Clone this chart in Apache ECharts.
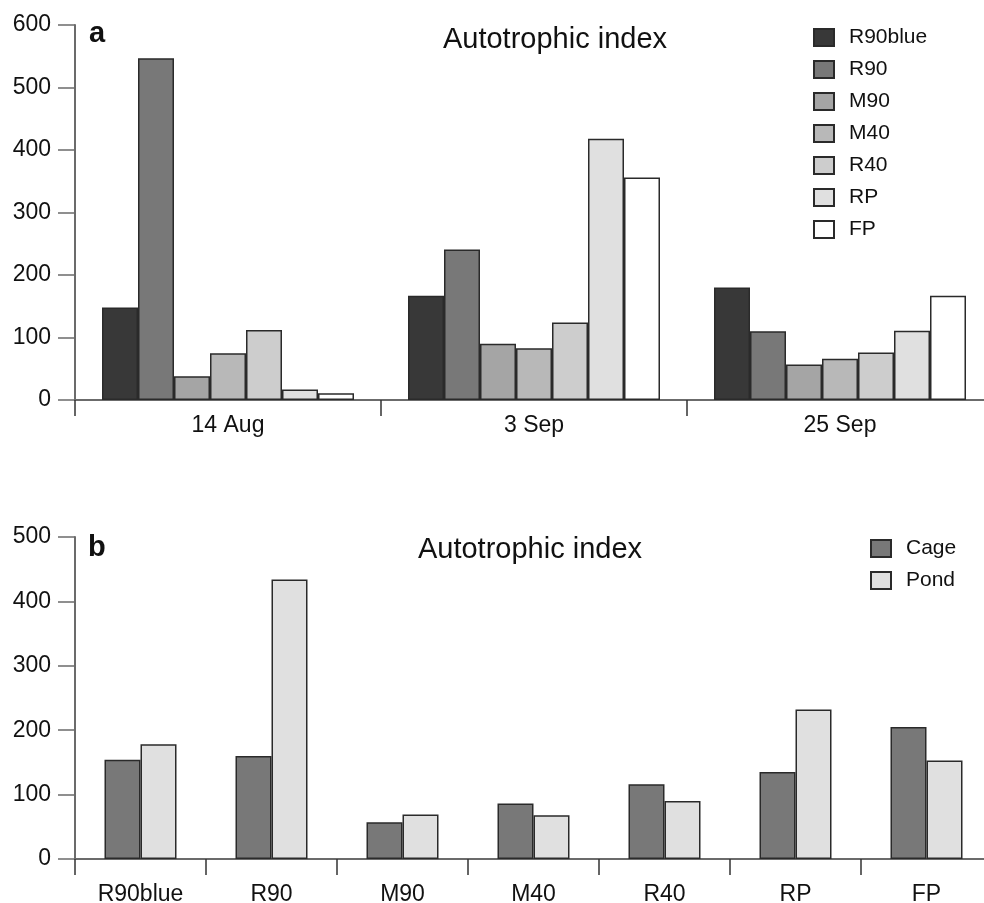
<!DOCTYPE html>
<html>
<head>
<meta charset="utf-8">
<title>Autotrophic index</title>
<script src="https://cdn.jsdelivr.net/npm/echarts@6/dist/echarts.min.js"></script>
<style>
  html, body { margin: 0; padding: 0; background: #fff; }
  #chart { width: 984px; height: 903px; }
</style>
</head>
<body>
<div id="chart"></div>
<script>
// panel a: dates x treatments
const dates = ['14 Aug', '3 Sep', '25 Sep'];
const treatments = ['R90blue', 'R90', 'M90', 'M40', 'R40', 'RP', 'FP'];
const r90blue = [148, 167, 180];
const r90 = [547, 241, 110];
const m90 = [38, 90, 57];
const m40 = [75, 83, 66];
const r40 = [112, 124, 76];
const rp = [17, 418, 111];
const fp = [11, 356, 167];
const topTicks = { min: 0, max: 600, interval: 100 };

// panel b: cage vs pond per treatment
const cage = [154, 160, 57, 86, 116, 135, 205];
const pond = [178, 434, 69, 68, 90, 232, 153];
const bottomTicks = { min: 0, max: 500, interval: 100 };

const topValues = [r90blue, r90, m90, m40, r40, rp, fp];
const grays = ['#383838', '#787878', '#a5a5a5', '#b8b8b8', '#cdcdcd', '#e0e0e0', '#ffffff'];

const font = 'Liberation Sans, Arial, sans-serif';
const axisColor = '#6b6b6b';

function xAxis(gridIndex, data, margin) {
  return {
    type: 'category',
    gridIndex: gridIndex,
    data: data,
    axisLine: { lineStyle: { color: axisColor, width: 2 } },
    axisTick: { show: true, length: 16, interval: 0, lineStyle: { color: '#333', width: 1.5 } },
    axisLabel: { color: '#111', fontSize: 23, fontFamily: font, margin: margin, interval: 0 },
    splitLine: { show: false }
  };
}

function yAxis(gridIndex, ticks) {
  return {
    type: 'value',
    gridIndex: gridIndex,
    min: ticks.min,
    max: ticks.max,
    interval: ticks.interval,
    axisLine: { show: true, lineStyle: { color: axisColor, width: 2 } },
    axisTick: { show: true, length: 17, lineStyle: { color: axisColor, width: 1.5 } },
    axisLabel: { color: '#111', fontSize: 23, fontFamily: font, margin: 24 },
    splitLine: { show: false }
  };
}

const series = [];
treatments.forEach(function (name, i) {
  series.push({
    name: name,
    type: 'bar',
    xAxisIndex: 0,
    yAxisIndex: 0,
    data: topValues[i],
    barWidth: 36,
    barGap: '0%',
    itemStyle: { color: grays[i], borderColor: '#2a2a2a', borderWidth: 1.5 }
  });
});
series.push({
  name: 'Cage',
  type: 'bar',
  xAxisIndex: 1,
  yAxisIndex: 1,
  data: cage,
  barWidth: 36,
  barGap: '0%',
  itemStyle: { color: '#787878', borderColor: '#2a2a2a', borderWidth: 1.5 }
});
series.push({
  name: 'Pond',
  type: 'bar',
  xAxisIndex: 1,
  yAxisIndex: 1,
  data: pond,
  barWidth: 36,
  barGap: '0%',
  itemStyle: { color: '#e0e0e0', borderColor: '#2a2a2a', borderWidth: 1.5 }
});

const legendBase = {
  orient: 'vertical',
  icon: 'rect',
  padding: 0,
  itemWidth: 20,
  itemHeight: 17,
  itemGap: 11,
  textStyle: { color: '#111', fontSize: 21, fontFamily: font, padding: [0, 0, 0, 10] }
};

const titleStyle = { fontSize: 29, fontWeight: 'normal', fontFamily: font, color: '#111' };
const letterStyle = { fontSize: 29, fontWeight: 'bold', fontFamily: font, color: '#111' };

const chart = echarts.init(document.getElementById('chart'), null, { renderer: 'canvas' });
chart.setOption({
  animation: false,
  backgroundColor: '#fff',
  title: [
    { text: 'a', left: 89, top: 19, padding: 0, textStyle: letterStyle },
    { text: 'Autotrophic index', left: 555, top: 25, padding: 0, textAlign: 'center', textStyle: titleStyle },
    { text: 'b', left: 88, top: 533, padding: 0, textStyle: letterStyle },
    { text: 'Autotrophic index', left: 530, top: 535, padding: 0, textAlign: 'center', textStyle: titleStyle }
  ],
  legend: [
    Object.assign({}, legendBase, { left: 813, top: 27, data: treatments }),
    Object.assign({}, legendBase, { left: 870, top: 538, data: ['Cage', 'Pond'] })
  ],
  // the last category runs a little past the right edge in the original
  grid: [
    { left: 75, width: 918, top: 25, height: 375, outerBoundsMode: 'none' },
    { left: 75, width: 917, top: 537, height: 322, outerBoundsMode: 'none' }
  ],
  xAxis: [xAxis(0, dates, 14), xAxis(1, treatments, 24)],
  yAxis: [yAxis(0, topTicks), yAxis(1, bottomTicks)],
  series: series
});
</script>
</body>
</html>
